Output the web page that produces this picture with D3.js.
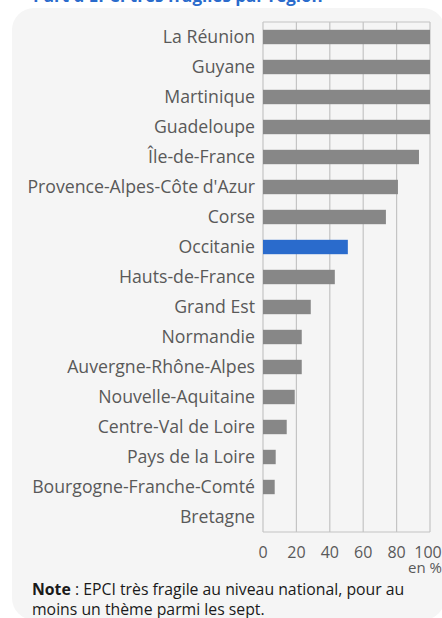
<!DOCTYPE html>
<html>
<head>
<meta charset="utf-8">
<script src="https://cdnjs.cloudflare.com/ajax/libs/d3/7.8.5/d3.min.js"></script>
<style>
  body { margin: 0; background: #fff; }
  svg { display: block; font-family: "Open Sans", sans-serif; }
</style>
</head>
<body>
<div id="chart"></div>
<script>
var regions = ["La Réunion", "Guyane", "Martinique", "Guadeloupe", "Île-de-France",
  "Provence-Alpes-Côte d'Azur", "Corse", "Occitanie", "Hauts-de-France", "Grand Est",
  "Normandie", "Auvergne-Rhône-Alpes", "Nouvelle-Aquitaine", "Centre-Val de Loire",
  "Pays de la Loire", "Bourgogne-Franche-Comté", "Bretagne"];
var values = [100, 100, 100, 100, 93.4, 80.8, 73.6, 50.8, 43, 28.6, 23.2, 23.2, 19, 14.2, 7.6, 7, 0];
var highlight = "Occitanie";
var ticks = [0, 20, 40, 60, 80, 100];

var width = 442, height = 618;
var margin = {top: 22, left: 263, right: 12, bottom: 86};

var svg = d3.select("#chart").append("svg")
    .attr("width", width)
    .attr("height", height);

// title, cut at the top of the picture
svg.append("text")
    .attr("x", 33).attr("y", 2)
    .style("font-size", "17px").style("font-weight", "bold")
    .style("fill", "#2a6bcc")
    .text("Part d'EPCI très fragiles par région");

svg.append("rect")
    .attr("x", 12).attr("y", 8)
    .attr("width", 433).attr("height", 612)
    .attr("rx", 22)
    .style("fill", "#f5f5f5");

var x = d3.scaleLinear()
    .domain([0, 100])
    .range([margin.left, 430]);

var y = d3.scaleBand()
    .domain(regions)
    .range([margin.top, 532])
    .paddingInner(0.52)
    .paddingOuter(0.26);

var g = svg.append("g");

// grid
g.selectAll(".vline")
    .data(ticks)
    .enter().append("line")
    .attr("x1", function(d) { return x(d); })
    .attr("x2", function(d) { return x(d); })
    .attr("y1", margin.top).attr("y2", 532)
    .style("stroke", "#c4c4c4").style("stroke-width", 1.2);

g.selectAll(".hline")
    .data([margin.top, 532])
    .enter().append("line")
    .attr("x1", x(0)).attr("x2", x(100))
    .attr("y1", function(d) { return d; })
    .attr("y2", function(d) { return d; })
    .style("stroke", "#c4c4c4").style("stroke-width", 1.2);

// bars
g.selectAll(".bar")
    .data(regions)
    .enter().append("rect")
    .attr("x", x(0))
    .attr("y", function(d) { return y(d); })
    .attr("width", function(d, i) { return x(values[i]) - x(0); })
    .attr("height", y.bandwidth())
    .style("fill", function(d) { return d === highlight ? "#2a6bcc" : "#878787"; });

// category labels
g.selectAll(".lab")
    .data(regions)
    .enter().append("text")
    .attr("x", 255)
    .attr("y", function(d) { return y(d) + y.bandwidth() / 2; })
    .attr("dy", "0.36em")
    .attr("text-anchor", "end")
    .style("font-size", "17.7px")
    .style("fill", "#595959")
    .text(function(d) { return d; });

// x tick labels
g.selectAll(".tick")
    .data(ticks)
    .enter().append("text")
    .attr("x", function(d) { return d === 100 ? x(d) - 2 : x(d); })
    .attr("y", 558)
    .attr("text-anchor", "middle")
    .style("font-size", "16px")
    .style("fill", "#595959")
    .text(function(d) { return d; });

svg.append("text")
    .attr("x", 442).attr("y", 573)
    .attr("text-anchor", "end")
    .style("font-size", "15px")
    .style("fill", "#595959")
    .text("en %");

var note = svg.append("text")
    .attr("x", 32).attr("y", 595)
    .style("font-size", "15.8px")
    .style("fill", "#1a1a1a");
note.append("tspan").style("font-weight", "bold").text("Note");
note.append("tspan").text(" : EPCI très fragile au niveau national, pour au");
svg.append("text")
    .attr("x", 32).attr("y", 615)
    .style("font-size", "15.8px")
    .style("fill", "#1a1a1a")
    .text("moins un thème parmi les sept.");
</script>
</body>
</html>
